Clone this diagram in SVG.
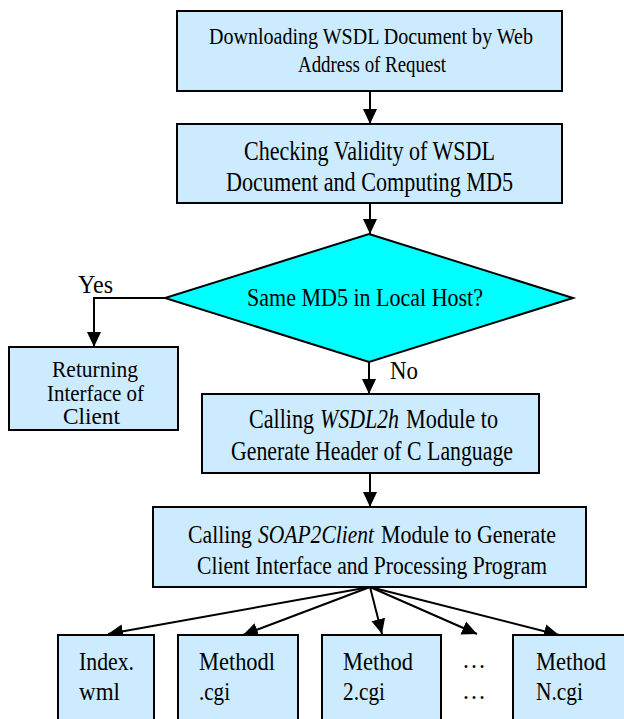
<svg xmlns="http://www.w3.org/2000/svg" width="624" height="719" viewBox="0 0 624 719">
  <style>
    .box { fill: #CCEBFF; stroke: #000; stroke-width: 2; }
    .dec { fill: #00FFFF; stroke: #000; stroke-width: 2; }
    text { font-family: 'Liberation Serif', 'Times New Roman', Times, serif; font-size: 26px; fill: #000; }
    .s23 { font-size: 23px; }
    .s24 { font-size: 24px; }
    .s25 { font-size: 25px; }
    .s27 { font-size: 27px; }
    .it { font-style: italic; }
    .edge { fill: none; stroke: #000; stroke-width: 2; marker-end: url(#arrow); }
  </style>
  <defs>
    <marker id="arrow" markerUnits="userSpaceOnUse" markerWidth="16" markerHeight="16" viewBox="0 0 16 16" refX="15" refY="8" orient="auto">
      <path d="M0,1 L15,8 L0,15 Z" fill="#000"/>
    </marker>
  </defs>

  <!-- connectors -->
  <g id="connectors">
    <path class="edge" d="M370,91 V124"/>
    <path class="edge" d="M370,203 V234"/>
    <path class="edge" d="M165,298 H94 V347"/>
    <path class="edge" d="M369,362 V394"/>
    <path class="edge" d="M370,473 V507"/>
    <path class="edge" d="M370,587 L108,634"/>
    <path class="edge" d="M370,587 L243,635"/>
    <path class="edge" d="M370,587 L382,634"/>
    <path class="edge" d="M370,587 L477,634"/>
    <path class="edge" d="M370,587 L559,635"/>
  </g>

  <g id="download">
    <rect class="box" x="177" y="11" width="385" height="80"/>
    <text class="s24" x="209" y="44" textLength="324" lengthAdjust="spacingAndGlyphs">Downloading WSDL Document by Web</text>
    <text class="s24" x="298" y="72" textLength="148" lengthAdjust="spacingAndGlyphs">Address of Request</text>
  </g>

  <g id="check">
    <rect class="box" x="177" y="124" width="385" height="79"/>
    <text class="s27" x="244" y="160" textLength="251" lengthAdjust="spacingAndGlyphs">Checking Validity of WSDL</text>
    <text class="s27" x="226" y="191" textLength="287" lengthAdjust="spacingAndGlyphs">Document and Computing MD5</text>
  </g>

  <g id="same-md5">
    <polygon class="dec" points="369,234 573,298 369,362 165,298"/>
    <text x="247" y="306" textLength="236" lengthAdjust="spacingAndGlyphs">Same MD5 in Local Host?</text>
  </g>

  <g id="label-yes">
    <text class="s25" x="78" y="293" textLength="35" lengthAdjust="spacingAndGlyphs">Yes</text>
  </g>
  <g id="label-no">
    <text class="s25" x="390" y="379" textLength="28" lengthAdjust="spacingAndGlyphs">No</text>
  </g>

  <g id="returning">
    <rect class="box" x="9" y="347" width="169" height="83"/>
    <text class="s23" x="52" y="377" textLength="86" lengthAdjust="spacingAndGlyphs">Returning</text>
    <text class="s23" x="47" y="401" textLength="97" lengthAdjust="spacingAndGlyphs">Interface of</text>
    <text class="s23" x="63" y="424" textLength="57" lengthAdjust="spacingAndGlyphs">Client</text>
  </g>

  <g id="wsdl2h">
    <rect class="box" x="202" y="394" width="337" height="79"/>
    <text class="s27" x="249" y="428" textLength="65" lengthAdjust="spacingAndGlyphs">Calling</text>
    <text class="s27 it" x="320" y="428" textLength="79" lengthAdjust="spacingAndGlyphs">WSDL2h</text>
    <text class="s27" x="406" y="428" textLength="92" lengthAdjust="spacingAndGlyphs">Module to</text>
    <text class="s27" x="231" y="460" textLength="282" lengthAdjust="spacingAndGlyphs">Generate Header of C Language</text>
  </g>

  <g id="soap2client">
    <rect class="box" x="153" y="507" width="433" height="80"/>
    <text x="188" y="543" textLength="64" lengthAdjust="spacingAndGlyphs">Calling</text>
    <text class="it" x="258" y="543" textLength="116" lengthAdjust="spacingAndGlyphs">SOAP2Client</text>
    <text x="381" y="543" textLength="175" lengthAdjust="spacingAndGlyphs">Module to Generate</text>
    <text x="197" y="574" textLength="350" lengthAdjust="spacingAndGlyphs">Client Interface and Processing Program</text>
  </g>

  <g id="index-wml">
    <rect class="box" x="58" y="635" width="96" height="95"/>
    <text x="79" y="670" textLength="55" lengthAdjust="spacingAndGlyphs">Index.</text>
    <text x="79" y="700" textLength="41" lengthAdjust="spacingAndGlyphs">wml</text>
  </g>

  <g id="method1">
    <rect class="box" x="178" y="635" width="120" height="95"/>
    <text x="199" y="670" textLength="76" lengthAdjust="spacingAndGlyphs">Methodl</text>
    <text x="199" y="700" textLength="31" lengthAdjust="spacingAndGlyphs">.cgi</text>
  </g>

  <g id="method2">
    <rect class="box" x="322" y="635" width="119" height="95"/>
    <text x="343" y="670" textLength="70" lengthAdjust="spacingAndGlyphs">Method</text>
    <text x="343" y="700" textLength="42" lengthAdjust="spacingAndGlyphs">2.cgi</text>
  </g>

  <g id="ellipsis">
    <text x="462" y="668" textLength="24" lengthAdjust="spacingAndGlyphs">…</text>
    <text x="462" y="699" textLength="24" lengthAdjust="spacingAndGlyphs">…</text>
  </g>

  <g id="methodN">
    <rect class="box" x="513" y="635" width="120" height="95"/>
    <text x="536" y="670" textLength="70" lengthAdjust="spacingAndGlyphs">Method</text>
    <text x="536" y="700" textLength="47" lengthAdjust="spacingAndGlyphs">N.cgi</text>
  </g>
</svg>
